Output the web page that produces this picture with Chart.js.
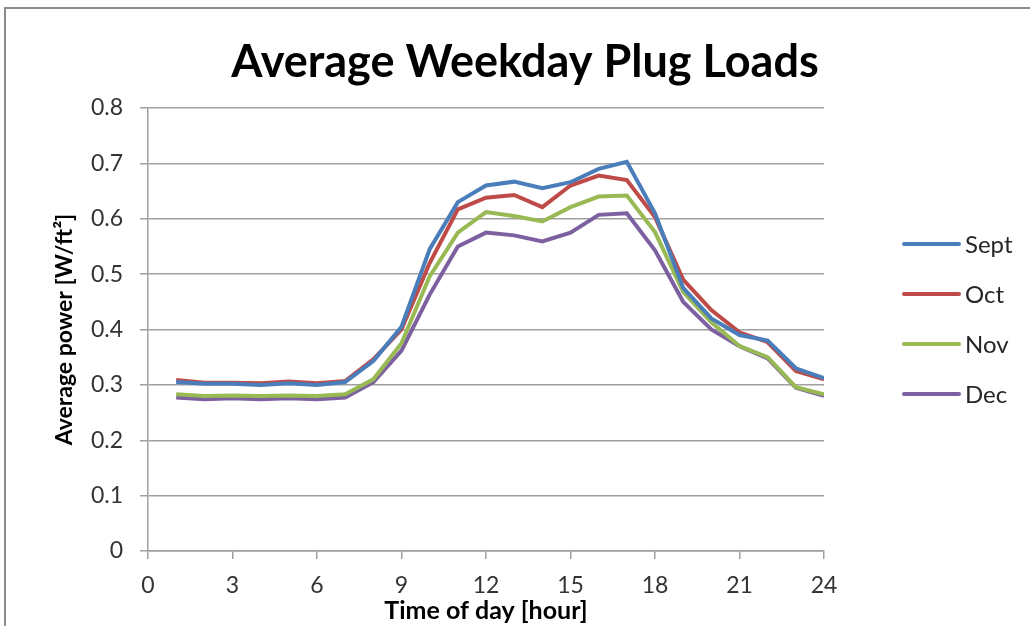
<!DOCTYPE html>
<html lang="en">
  <head>
    <meta charset="UTF-8" />
    <title>Average Weekday Plug Loads</title>
    <script src="https://cdn.jsdelivr.net/npm/chart.js"></script>
    <style>
      body { margin: 0; background: #fff; overflow: hidden; }
      #wrap { position: relative; width: 1030px; height: 626px; }
      #frame {
        position: absolute; left: 4px; top: 7px; right: -10px; bottom: -10px;
        border: 2px solid #8c8c8c;
      }
      #chart { position: absolute; left: 0; top: 0; }
    </style>
  </head>
  <body>
    <div id="wrap">
      <div id="frame"></div>
      <canvas id="chart" width="1030" height="626"></canvas>
    </div>

    <script>
      const hours = [1, 2, 3, 4, 5, 6, 7, 8, 9, 10, 11, 12, 13, 14, 15, 16, 17, 18, 19, 20, 21, 22, 23, 24];
      const sept = [0.305, 0.302, 0.302, 0.300, 0.303, 0.300, 0.305, 0.343, 0.405, 0.545, 0.630, 0.660, 0.667, 0.655, 0.666, 0.690, 0.703, 0.610, 0.475, 0.420, 0.390, 0.380, 0.330, 0.312];
      const oct = [0.309, 0.304, 0.304, 0.303, 0.306, 0.303, 0.307, 0.346, 0.400, 0.520, 0.617, 0.638, 0.643, 0.621, 0.660, 0.678, 0.670, 0.603, 0.490, 0.435, 0.395, 0.377, 0.325, 0.310];
      const nov = [0.283, 0.280, 0.281, 0.280, 0.281, 0.280, 0.283, 0.310, 0.375, 0.496, 0.575, 0.612, 0.605, 0.595, 0.621, 0.640, 0.642, 0.576, 0.468, 0.413, 0.370, 0.350, 0.296, 0.283];
      const dec = [0.277, 0.274, 0.276, 0.274, 0.276, 0.274, 0.277, 0.305, 0.362, 0.463, 0.550, 0.575, 0.570, 0.559, 0.575, 0.607, 0.610, 0.543, 0.450, 0.400, 0.370, 0.348, 0.295, 0.280];
      const seriesNames = ["Sept", "Oct", "Nov", "Dec"];
      const seriesColors = ["#4a7ebb", "#be4b48", "#98b954", "#7d60a0"];
      const xTicks = [0, 3, 6, 9, 12, 15, 18, 21, 24];

      const FONT = "Lato, 'Open Sans', sans-serif";

      const series = [sept, oct, nov, dec];
      const datasets = series.map((vals, i) => ({
        label: seriesNames[i],
        data: vals.map((v, j) => ({ x: hours[j], y: v })),
        borderColor: seriesColors[i],
        backgroundColor: seriesColors[i],
        borderWidth: 4,
        pointRadius: 0,
        tension: 0,
      }));

      // legend on the right, drawn from the datasets
      const sideLegend = {
        id: "sideLegend",
        afterDraw(chart) {
          const ctx = chart.ctx;
          ctx.save();
          ctx.font = "24px " + FONT;
          ctx.textBaseline = "middle";
          chart.data.datasets.forEach((ds, i) => {
            const y = 244 + i * 50;
            ctx.strokeStyle = ds.borderColor;
            ctx.lineWidth = 4;
            ctx.lineCap = "round";
            ctx.beginPath();
            ctx.moveTo(904, y);
            ctx.lineTo(959, y);
            ctx.stroke();
            ctx.fillStyle = "#262626";
            ctx.fillText(ds.label, 965, y + 1);
          });
          ctx.restore();
        },
      };

      new Chart(document.getElementById("chart"), {
        type: "line",
        data: { datasets },
        plugins: [sideLegend],
        options: {
          responsive: false,
          animation: false,
          layout: { padding: { left: 20, right: 0, top: 0, bottom: 0 } },
          plugins: {
            legend: { display: false },
            tooltip: { enabled: false },
            title: {
              display: true,
              text: "Average Weekday Plug Loads",
              color: "#000",
              font: { family: FONT, size: 45, weight: "bold" },
              padding: { top: 35, bottom: 19 },
            },
          },
          scales: {
            x: {
              type: "linear",
              min: 0,
              max: 24,
              afterFit: (s) => { s.height = 75; },
              afterBuildTicks: (s) => { s.ticks = xTicks.map((v) => ({ value: v })); },
              grid: { drawOnChartArea: false, drawTicks: true, tickLength: 8, color: "#a0a0a0", lineWidth: 1.5 },
              border: { color: "#a0a0a0", width: 1.5 },
              ticks: { color: "#333", font: { family: FONT, size: 23 }, padding: 13, maxRotation: 0 },
              title: {
                display: true,
                text: "Time of day [hour]",
                color: "#000",
                font: { family: FONT, size: 25, weight: "bold" },
                padding: { top: 0, bottom: 0 },
              },
            },
            y: {
              min: 0,
              max: 0.8,
              afterFit: (s) => { s.width = 128; },
              grid: { color: "#a0a0a0", lineWidth: 1.5, tickLength: 8 },
              border: { color: "#a0a0a0", width: 1.5 },
              ticks: {
                stepSize: 0.1,
                color: "#333",
                font: { family: FONT, size: 23 },
                padding: 17,
                callback: (v) => (v === 0 ? "0" : v.toFixed(1)),
              },
              title: {
                display: true,
                text: "Average power [W/ft²]",
                color: "#000",
                font: { family: FONT, size: 23, weight: "bold" },
                padding: { top: 31, bottom: 0 },
              },
            },
            // empty strip on the right that holds the legend
            side: {
              position: "right",
              display: true,
              afterFit: (s) => { s.width = 206; },
              grid: { display: false },
              border: { display: false },
              ticks: { display: false },
            },
          },
        },
      });
    </script>
  </body>
</html>
